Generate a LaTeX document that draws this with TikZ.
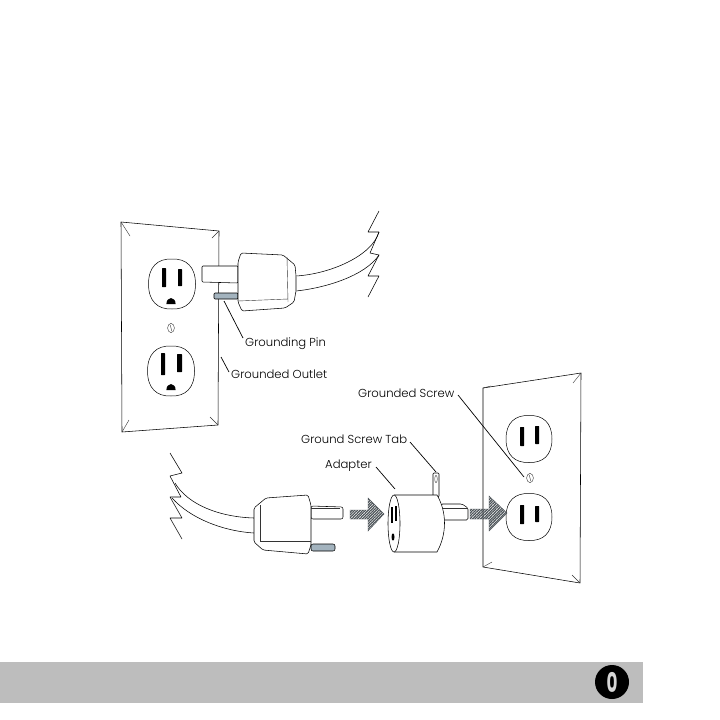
\documentclass[tikz,border=0pt]{standalone}
\usepackage{fontspec}
\setmainfont{Poppins Light}[BoldFont=Poppins Bold]
\usetikzlibrary{patterns.meta}
\definecolor{pinblue}{HTML}{A3B3BE}
\definecolor{band}{HTML}{BDBDBD}
\definecolor{hatchc}{HTML}{4C5358}
\tikzset{
  ln/.style={draw=black,line width=0.55pt,line join=round},
  thin line/.style={draw=black!80,line width=0.4pt},
  pin/.style={ln,fill=pinblue},
  body/.style={ln,fill=white},
  leader/.style={draw=black,line width=0.7pt},
  lab/.style={font=\fontsize{11.6}{13}\selectfont,text=black,inner sep=0pt,anchor=mid west},
  hatch/.style={draw=hatchc,line width=0.4pt,pattern={Lines[angle=45,distance=1.9pt,line width=1.25pt]},pattern color=hatchc}
}
\newcommand{\outletface}[4]{% cx cy hw hh
  \draw[body,line width=0.5pt] (#1,#2-#4) .. controls (#1+0.6*#3,#2-#4-0.5) and (#1+#3,#2-0.7*#4) .. (#1+#3,#2)
    .. controls (#1+#3,#2+0.7*#4) and (#1+0.6*#3,#2+#4+0.5) .. (#1,#2+#4)
    .. controls (#1-0.6*#3,#2+#4+0.5) and (#1-#3,#2+0.7*#4) .. (#1-#3,#2)
    .. controls (#1-#3,#2-0.7*#4) and (#1-0.6*#3,#2-#4-0.5) .. (#1,#2-#4) -- cycle;}
\newcommand{\groundhole}[2]{% cx, base y
  \fill (#1-4.6,#2) arc[start angle=180,end angle=360,x radius=4.6,y radius=6] -- cycle;}
\newcommand{\screwmark}[2]{%
  \draw[thin line] (#1,#2) ellipse[x radius=3.4,y radius=4.6];
  \draw[thin line] (#1-0.8,#2-3) -- (#1+0.8,#2+3);}
\begin{document}
\begin{tikzpicture}[x=1pt,y=-1pt]
\useasboundingbox (0,0) rectangle (720,720);
\fill[white] (0,0) rectangle (720,720);

% left plate
\draw[ln] (121,222) -- (219,231) -- (218,425) -- (122,432) -- cycle;
\draw[thin line] (121,222) -- (130,236) (219,231) -- (212,238) (218,425) -- (210,417) (122,432) -- (129,420);
\outletface{172}{284}{23.5}{25}
\fill[rounded corners=0.5pt] (162,268) rectangle (166,287);
\fill[rounded corners=0.5pt] (178,269) rectangle (182,286);
\groundhole{171}{304}
\screwmark{171}{328}
\outletface{171}{371}{23.5}{25}
\fill[rounded corners=0.5pt] (161,353) rectangle (165,375);
\fill[rounded corners=0.5pt] (177,354) rectangle (182,372);
\groundhole{171}{390}

% upper plug
\draw[body,rounded corners=1pt] (238,266) -- (202,266) -- (202,282) -- (238,283) -- cycle;
\draw[pin,rounded corners=1pt] (238,293) -- (214,293) -- (214,299) -- (238,299) -- cycle;
\draw[ln] (379,211) -- (368,232) -- (379,232) -- (370,253) -- (379,255) -- (368,276) -- (379,276) -- (368,297);
\draw[ln] (296,276) .. controls (330,274) and (372,256) .. (379,232);
\draw[ln] (296,291) .. controls (325,288) and (365,276) .. (379,255);
\draw[body,rounded corners=1.5pt] (238,262) -- (241,253) -- (283,255) -- (295,265) -- (296,276) -- (296,291) -- (294,302) -- (285,308) -- (242,311) -- (238,302) -- cycle;
\draw[thin line] (287,257) -- (288,302) (238,301) -- (288,299);

% lower plug
\draw[ln] (170,453) -- (182,473) -- (170,476) -- (181,497) -- (170,497) -- (182,518) -- (170,518) -- (182,539);
\draw[ln] (175,483) .. controls (188,505) and (220,517) .. (254,518);
\draw[ln] (172,498) .. controls (190,518) and (222,531) .. (254,533);
\draw[body,rounded corners=2pt] (311,506) -- (343,507) -- (343,519) -- (311,519) -- cycle;
\draw[thin line] (311,508.5) -- (340,508.5);
\draw[pin,rounded corners=2pt] (311,544) -- (335,544) -- (335,551) -- (311,551) -- cycle;
\draw[body,rounded corners=1.5pt] (254,508) -- (266,498) -- (308,495) -- (311,505) -- (311,545) -- (308,554) -- (263,550) -- (254,542) -- cycle;
\draw[thin line] (260,505) -- (260,541) -- (311,541);

% hatched arrow 1
\draw[hatch] (350,510) -- (368,510) -- (368,498) -- (384,514) -- (368,531) -- (368,519) -- (350,519) -- cycle;

% adapter
\draw[body,rounded corners=1pt] (433,497) -- (433,473) -- (439,473) -- (439,497) -- cycle;
\draw[thin line] (436,479) ellipse[x radius=1.3,y radius=3.6];
\draw[body,rounded corners=1.5pt] (441,504) -- (462,504) -- (468,508) -- (468,520) -- (441,520) -- cycle;
\draw[thin line] (441,508) -- (468,508);
\draw[body] (394,495) -- (437,495) .. controls (447,512) and (447,534) .. (437,552) -- (394,552);
\draw[body] (394,523.5) ellipse[x radius=6,y radius=28.5];
\fill (391,507) rectangle (393,523);
\fill (394.7,506) rectangle (397,521);
\fill (393,537) ellipse[x radius=1.5,y radius=3.6];

% right plate
\draw[ln] (483,388) -- (581,373) -- (580,583) -- (483,567) -- cycle;
\draw[thin line] (483,388) -- (491,386) (581,373) -- (573,383) (580,583) -- (572,575) (483,567) -- (492,562);
\outletface{529}{439}{23}{23.5}
\fill[rounded corners=0.5pt] (520,427) rectangle (524,446);
\fill[rounded corners=0.5pt] (535,426) rectangle (539,444);
\screwmark{530}{478}
\outletface{529}{517}{23}{23.5}
\fill[rounded corners=0.5pt] (520,505) rectangle (524,524);
\fill[rounded corners=0.5pt] (535,506) rectangle (539,522);

% hatched arrow 2
\draw[hatch] (470,509) -- (489,509) -- (489,496) -- (507,513) -- (489,531) -- (489,519) -- (470,519) -- cycle;

% labels
\node[lab] (lpin) at (245,344) {Grounding Pin};
\node[lab] (lout) at (231,375.5) {Grounded Outlet};
\node[lab] (lscr) at (358,394.5) {Grounded Screw};
\node[lab] (ltab) at (301,440.5) {Ground Screw Tab};
\node[lab] (lada) at (325,465.5) {Adapter};
\coordinate (tpin) at (224,301);
\coordinate (tout) at (221,357);
\coordinate (tscr) at (524,477);
\coordinate (ttab) at (436,472);
\coordinate (tada) at (395,489);
\draw[leader] (243,338) -- (tpin);
\draw[leader] (229,372) -- (tout);
\draw[leader] (458,395) -- (tscr);
\draw[leader] (410,442) -- (ttab);
\draw[leader] (376,467) -- (tada);

% footer
\fill[band] (0,662) rectangle (643,703);
\node[circle,fill=black,minimum size=34pt,inner sep=0pt] (badge) at (612,682) {};
\node[inner sep=0pt,text=band!60!white,font=\fontsize{27}{27}\selectfont\bfseries,xscale=0.62] (num) at (badge.center) {0};
\end{tikzpicture}
\end{document}
